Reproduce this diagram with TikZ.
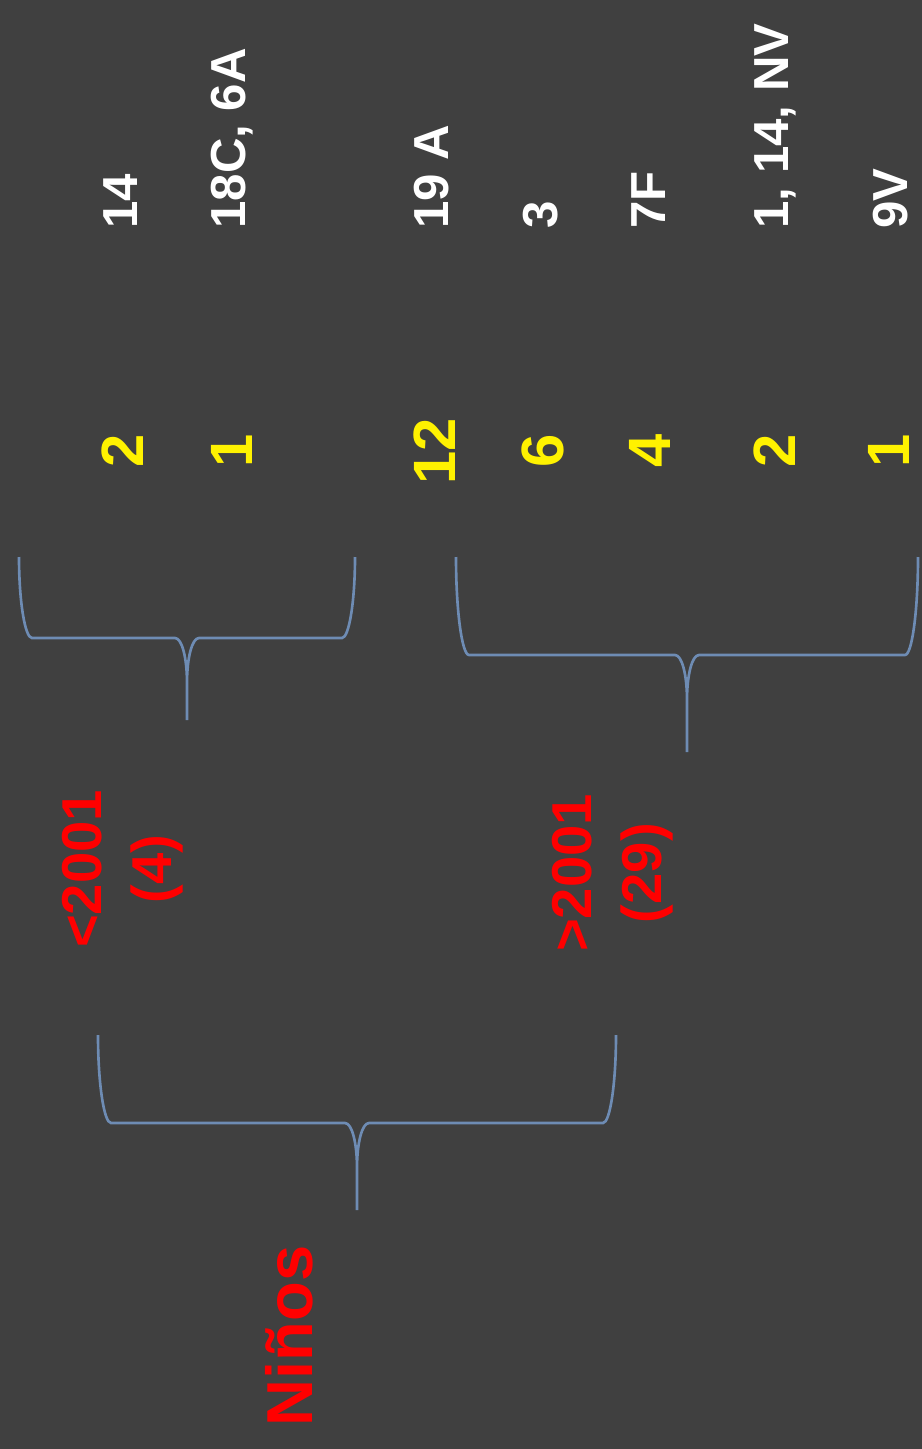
\documentclass[tikz,border=0pt]{standalone}
\usepackage{fontspec}
\setmainfont{Liberation Sans}
\usepackage{tikz}

\definecolor{slidegray}{RGB}{64,64,64}
\definecolor{bracecol}{RGB}{110,140,180}

% horizontal brace opening upwards: left x, right x, top y, bar y, tip y
\newcommand{\groupbrace}[5]{%
  \pgfmathsetmacro{\bxm}{(#1+#2)/2}
  \pgfmathsetmacro{\bya}{#3+0.55*(#4-#3)}
  \pgfmathsetmacro{\byc}{#4+45}
  \pgfmathsetmacro{\byd}{#4+20}
  \draw[bracket] (#1,#3) .. controls (#1,\bya) and ({#1+6},#4) .. ({#1+13},#4)
    -- ({\bxm-12},#4) .. controls ({\bxm-5},#4) and (\bxm,\byd) .. (\bxm,\byc) -- (\bxm,#5)
    (\bxm,\byc) .. controls (\bxm,\byd) and ({\bxm+5},#4) .. ({\bxm+12},#4)
    -- ({#2-13},#4) .. controls ({#2-6},#4) and (#2,\bya) .. (#2,#3);
}

\begin{document}
\begin{tikzpicture}[x=0.02cm, y=-0.02cm,
        serotype/.style={text=white, font=\fontsize{28}{34}\selectfont\bfseries, rotate=90, inner sep=0pt, anchor=base west},
        count/.style={text=yellow, font=\fontsize{34}{40}\selectfont\bfseries, rotate=90, inner sep=0pt, anchor=base},
        group/.style={text=red, font=\fontsize{32}{40}\selectfont\bfseries, rotate=90, align=center, inner sep=0pt},
        bracket/.style={draw=bracecol, line width=1.5pt}]

        \useasboundingbox (0,0) rectangle (922,1449);
        \fill[slidegray] (0,0) rectangle (922,1449);

        % serotypes
        \node[serotype] (st14) at (137,229) {14};
        \node[serotype] (st18c) at (245,229) {18C, 6A};
        \node[serotype] (st19a) at (448,229) {19 A};
        \node[serotype] (st3) at (557,229) {3};
        \node[serotype] (st7f) at (665,229) {7F};
        \node[serotype] (st1nv) at (788,229) {1, 14, NV};
        \node[serotype] (st9v) at (907,229) {9V};

        % cases
        \node[count] (ct14) at (143,451) {2};
        \node[count] (ct18c) at (252,451) {1};
        \node[count] (ct19a) at (455,451) {12};
        \node[count] (ct3) at (563,451) {6};
        \node[count] (ct7f) at (670,451) {4};
        \node[count] (ct1nv) at (795,451) {2};
        \node[count] (ct9v) at (909,451) {1};

        \node[group] (before) at (123,869) {<2001\\(4)};
        \node[group] (after) at (613,873) {>2001\\(29)};
        \node[group, font=\fontsize{37}{44}\selectfont\bfseries] (ninos) at (289,1336) {Niños};

        \groupbrace{19}{355}{557}{638}{720}
        \groupbrace{456}{918}{557}{655}{752}
        \groupbrace{98}{616}{1035}{1123}{1210}
    \end{tikzpicture}
\end{document}
